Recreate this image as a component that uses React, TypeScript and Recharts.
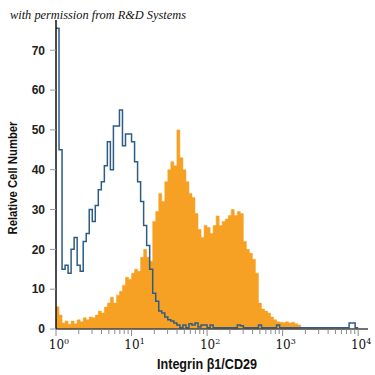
import React from 'react';
import { ComposedChart, Area, Line, XAxis, YAxis } from 'recharts';

// channel bins are 0.04 decades wide, starting at 10^0
const binWidth = 0.04;

// isotype control (blue outline)
const isotype = [
  75.5, 45, 15, 16, 14, 20, 23, 16, 14.5, 22,
  24, 30, 27, 31, 35, 37, 41, 47, 40, 51,
  51, 55, 46, 49, 49, 47, 42, 37, 32, 26,
  21, 15, 9, 7, 4.5, 4, 3, 2.3, 2, 1.5,
  1, 0.3, 1, 0.3, 1.3, 1, 1.5, 0.5, 1, 1,
  0.3, 1, 0.3, 0.3, 0.3, 0.3, 0.3, 0.3, 0.3, 0.3,
  1, 0.8, 0.3, 0.3, 0.3, 0.3, 0.3, 1, 0.3, 0.3,
  0.3, 0.3, 0.3, 1, 0.3, 0.3, 0.3, 0.3, 0.3, 0.3,
  0.3, 0.3, 0.3, 0.3, 0.3, 0.3, 0.3, 0.3, 0.3, 0.3,
  0.3, 0.3, 0.3, 0.3, 0.3, 0.3, 0.3, 1.5, 1.5, 0.3,
];

// anti-CD29 stained (orange fill)
const cd29 = [
  5.6, 3.5, 1.5, 2, 1.2, 2, 1.3, 2.3, 1.8, 2.8,
  2.3, 3, 2.8, 3.5, 4.5, 4, 5.5, 6.5, 8, 6.5,
  8.5, 9.5, 11, 13, 12.5, 14, 15, 14.5, 18, 20,
  18, 17, 27, 29.5, 34, 32, 37, 40, 42, 41,
  50, 43, 40, 37, 34, 33, 29, 25, 23, 26,
  25.5, 24, 26, 28.4, 26, 27, 27.6, 28.5, 30, 28.5,
  29.5, 29, 22, 20, 19, 17.5, 14, 6.5, 5, 4.5,
  4, 3, 2.3, 1.8, 1.7, 1.6, 1.8, 1.5, 1.7, 1.3,
  1, 0, 0, 0, 0, 0, 0, 0, 0, 0,
  0, 0, 0, 0, 0, 0, 0, 0, 0, 0,
];

const yTicks = [0, 10, 20, 30, 40, 50, 60, 70];
const decades = [0, 1, 2, 3, 4];
const minorSteps = [2, 3, 4, 5, 6, 7, 8, 9];

const xTicks = decades.flatMap((d) => (d < 4 ? [d, ...minorSteps.map((k) => d + Math.log10(k))] : [d]));

const rows = cd29.map((v, i) => ({ x: i * binWidth, cd29: v, isotype: isotype[i] }));
rows.push({ x: 4, cd29: 0, isotype: isotype[isotype.length - 1] });

const sans = '"Liberation Sans Narrow", "Liberation Sans", Arial, sans-serif';

function LogTick({ x, y, payload }: any) {
  const v = payload.value as number;
  const major = Math.abs(v - Math.round(v)) < 1e-6;
  return (
    <g>
      <line x1={x} x2={x} y1={y} y2={y + (major ? 7 : 5)} stroke="#8a8a8a" strokeWidth={1} />
      {major && (
        <text x={x + 3} y={y + 20} textAnchor="middle" fontFamily='"DejaVu Serif", "Liberation Serif", serif'
          fontSize={12} fill="#111">
          10<tspan dy={-5} fontSize={8}>{Math.round(v)}</tspan>
        </text>
      )}
    </g>
  );
}

export default function App() {
  return (
    <div style={{ position: 'absolute', left: 0, top: 0, width: 375, height: 375, background: '#fff' }}>
      <ComposedChart width={375} height={375} data={rows} margin={{ top: 20, right: 7, bottom: 16, left: 0 }}>
        <XAxis type="number" dataKey="x" domain={[0, 4.13]} ticks={xTicks} interval={0} allowDataOverflow
          tick={(p: any) => <LogTick {...p} />} tickLine={false} tickSize={0} tickMargin={0} height={30}
          axisLine={{ stroke: '#444', strokeWidth: 1.5 }} />
        <YAxis type="number" domain={[0, 77.6]} ticks={yTicks} interval={0} width={56} allowDataOverflow
          tickSize={6} tickMargin={5} tickLine={{ stroke: '#999' }} axisLine={{ stroke: '#111', strokeWidth: 1.5 }}
          tick={{ fontSize: 12, fontWeight: 700, fill: '#222', fontFamily: sans }} />
        <Area type="stepAfter" dataKey="cd29" fill="#f6a124" fillOpacity={1} stroke="#f6a124" strokeWidth={0.5}
          isAnimationActive={false} />
        <Line type="stepAfter" dataKey="isotype" stroke="#2d5c86" strokeWidth={1.5} dot={false}
          isAnimationActive={false} />
      </ComposedChart>
      <svg width={375} height={375} style={{ position: 'absolute', left: 0, top: 0, pointerEvents: 'none' }}>
        <text x={10} y={19} fontFamily='"Liberation Serif", serif' fontStyle="italic" fontSize={12} fill="#111"
          textLength={176} lengthAdjust="spacingAndGlyphs">
          with permission from R&amp;D Systems
        </text>
        <text transform="translate(17,178) rotate(-90)" textAnchor="middle" fontFamily={sans} fontWeight={700}
          fontSize={13} fill="#111" textLength={113} lengthAdjust="spacingAndGlyphs">
          Relative Cell Number
        </text>
        <text x={207} y={369} textAnchor="middle" fontFamily={sans} fontWeight={700} fontSize={15} fill="#111"
          textLength={100} lengthAdjust="spacingAndGlyphs">
          Integrin β1/CD29
        </text>
      </svg>
    </div>
  );
}
